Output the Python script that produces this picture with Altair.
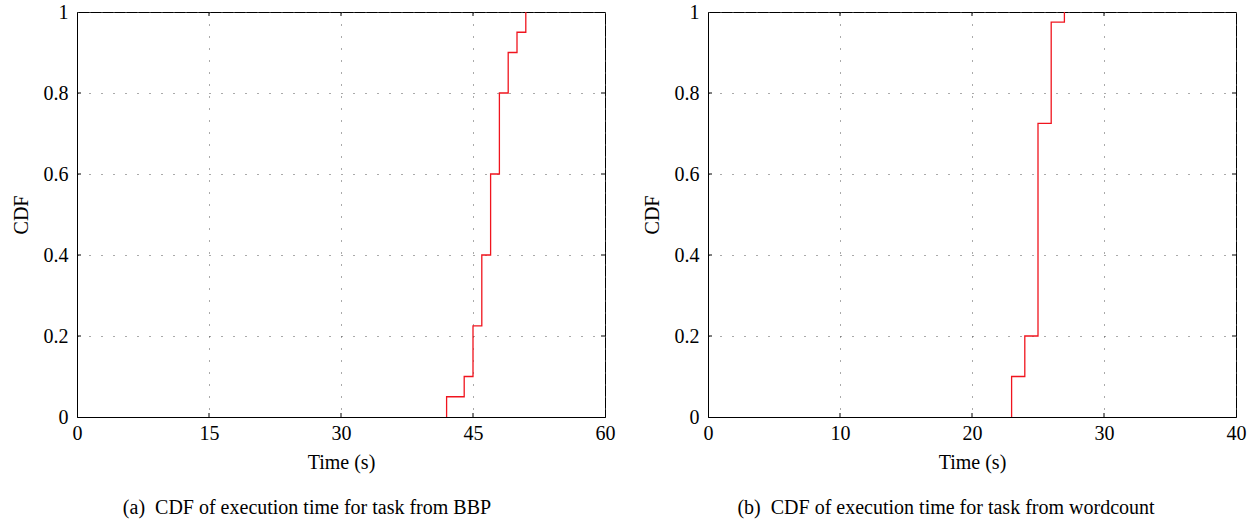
import altair as alt
import pandas as pd

# Data
bbp_times = [42, 44, 45, 46, 47, 48, 49, 50, 51]
bbp_cdf = [0.05, 0.1, 0.225, 0.4, 0.6, 0.8, 0.9, 0.95, 1.0]
wc_times = [23, 24, 25, 26, 27]
wc_cdf = [0.1, 0.2, 0.725, 0.975, 1.0]
bbp_xticks = [0, 15, 30, 45, 60]
wc_xticks = [0, 10, 20, 30, 40]
yticks = [0, 0.2, 0.4, 0.6, 0.8, 1.0]
captions = ["(a)\u00a0 CDF of execution time for task from BBP",
            "(b)\u00a0 CDF of execution time for task from wordcount"]

W, H = 528, 405
FONT = "Liberation Serif"
RED = "#f0141e"
FS = 20


def panel(times, cdf, xticks, xmax, caption, dx):
    df = pd.DataFrame({"t": [times[0]] + times, "c": [0.0] + cdf})
    df["i"] = range(len(df))
    xs = alt.Scale(domain=[0, xmax], nice=False, zero=False)
    ys = alt.Scale(domain=[0, 1], nice=False)
    xaxis = alt.Axis(values=xticks, title="Time (s)", format="d", grid=True,
                     labelPadding=6, titlePadding=9, labelFlush=False)
    yaxis = alt.Axis(values=yticks, title="CDF", format="~g", grid=True,
                     labelPadding=9, titlePadding=12, labelFlush=False)
    line = alt.Chart(df).mark_line(interpolate="step-after", color=RED, strokeWidth=1.3).encode(
        x=alt.X("t:Q", scale=xs, axis=xaxis),
        y=alt.Y("c:Q", scale=ys, axis=yaxis),
        order="i:Q",
    )
    xt = pd.DataFrame({"v": xticks[1:-1]})
    yt = pd.DataFrame({"v": yticks[1:-1]})
    tb = alt.Chart(xt).mark_rule(color="black").encode(
        x=alt.X("v:Q", scale=xs, axis=xaxis), y=alt.value(H - 4), y2=alt.value(H))
    tt = alt.Chart(xt).mark_rule(color="black").encode(
        x=alt.X("v:Q", scale=xs, axis=xaxis), y=alt.value(0), y2=alt.value(4))
    tl = alt.Chart(yt).mark_rule(color="black").encode(
        y=alt.Y("v:Q", scale=ys, axis=yaxis), x=alt.value(0), x2=alt.value(4))
    tr = alt.Chart(yt).mark_rule(color="black").encode(
        y=alt.Y("v:Q", scale=ys, axis=yaxis), x=alt.value(W - 4), x2=alt.value(W))
    return alt.layer(line, tb, tt, tl, tr).properties(
        width=W, height=H,
        title=alt.TitleParams(caption, orient="bottom", anchor="middle", frame="group",
                              dx=dx, offset=26, fontSize=FS, font=FONT,
                              fontWeight="normal", color="black"),
    )


left = panel(bbp_times, bbp_cdf, bbp_xticks, 60, captions[0], -34)
right = panel(wc_times, wc_cdf, wc_xticks, 40, captions[1], -26)

chart = alt.hconcat(left, right, spacing=25).properties(
    padding={"left": 10, "top": 1, "right": 2, "bottom": 1},
    background="white",
).configure_view(stroke="black", strokeWidth=1).configure_axis(
    grid=True, gridDash=[1, 11], gridColor="#555", gridWidth=1,
    domainColor="black", domainWidth=1, ticks=False, tickSize=0,
    labelFont=FONT, labelFontSize=FS, labelColor="black",
    titleFont=FONT, titleFontSize=FS, titleColor="black", titleFontWeight="normal",
)

chart.save("out.html", embed_options={"renderer": "svg", "actions": False})
